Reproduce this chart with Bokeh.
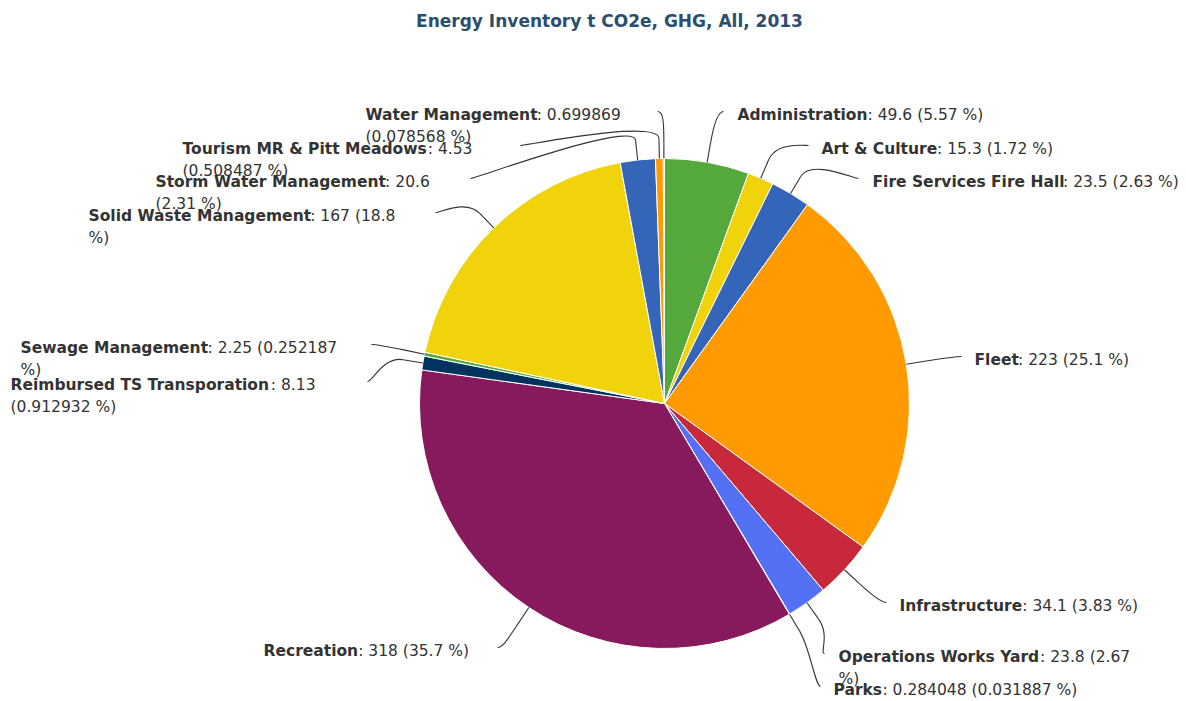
import math
from bokeh.plotting import figure
from bokeh.models import Range1d, ColumnDataSource
from bokeh.core.properties import value
from bokeh.embed import file_html
from bokeh.resources import INLINE

# ---------------- data ----------------
title_text = "Energy Inventory t CO2e, GHG, All, 2013"
categories = ["Administration", "Art & Culture", "Fire Services Fire Hall", "Fleet",
              "Infrastructure", "Operations Works Yard", "Parks", "Recreation",
              "Reimbursed TS Transporation", "Sewage Management", "Solid Waste Management",
              "Storm Water Management", "Tourism MR & Pitt Meadows", "Water Management"]
values = [49.6, 15.3, 23.5, 223, 34.1, 23.8, 0.284048, 318, 8.13, 2.25, 167, 20.6, 4.53, 0.699869]
percents = [5.57, 1.72, 2.63, 25.1, 3.83, 2.67, 0.031887, 35.7, 0.912932, 0.252187, 18.8, 2.31,
            0.508487, 0.078568]

# ---------------- style / layout ----------------
palette = ["#55a83c", "#f0d30a", "#3565b8", "#ff9a00", "#c8283b", "#5470f5", "#2aa7c9",
           "#861a5d", "#00345f"]
W, H = 1186, 701
CX, CY, R = 664, 403, 245          # screen px
FS = 15.5
TEXT_COLOR = "#333333"
LINE_H = 22.5

# per label: side (+1 right, -1 left), text left x, text first-line y, connector x,
# tokens of the value part kept on first line
label_layout = [
    (1, 737, 114, 723, 3),
    (1, 821, 148, 808, 3),
    (1, 872, 181, 858, 3),
    (1, 974, 359, 961, 3),
    (1, 899, 605, 886, 3),
    (1, 838, 656, 824, 2),
    (1, 833, 689, 820, 3),
    (-1, 263, 650, 497, 3),
    (-1, 10, 384, 367, 1),
    (-1, 20, 347, 371, 2),
    (-1, 88, 215, 435, 2),
    (-1, 155, 181, 470, 1),
    (-1, 182, 148, 520, 1),
    (-1, 365, 114, 657, 1),
]

# DejaVu Sans Bold advance widths (units of 1/2048 em)
BOLD_W = {' ': 713, '&': 1774, 'A': 1585, 'C': 1505, 'F': 1296, 'H': 1714, 'I': 763,
          'M': 1995, 'O': 1741, 'P': 1496, 'R': 1581, 'S': 1479, 'T': 1400, 'W': 2112,
          'Y': 1483, 'a': 1382, 'b': 1466, 'c': 1214, 'd': 1466, 'e': 1389, 'f': 891,
          'g': 1466, 'h': 1458, 'i': 702, 'k': 1362, 'l': 702, 'm': 2134, 'n': 1458,
          'o': 1407, 'p': 1466, 'r': 1010, 's': 1219, 't': 979, 'u': 1458, 'v': 1335,
          'w': 1862, 'y': 1335}


def bold_width(s, fs):
    return sum(BOLD_W.get(ch, 1300) for ch in s) / 2048.0 * fs


def fmt(v):
    return f"{v:.6f}" if v < 1 else f"{v:.3g}"


def sy(y):
    return 701 - y


p = figure(width=W, height=H, output_backend="svg", toolbar_location=None,
           x_range=Range1d(0, W), y_range=Range1d(701 - H, 701),
           min_border=0)
p.axis.visible = False
p.grid.visible = False
p.outline_line_color = None
p.background_fill_color = "white"
p.border_fill_color = "white"

total = sum(values)
starts, ends, cols = [], [], []
cum = 0.0
mids = []
for i, v in enumerate(values):
    a0 = math.pi / 2 - 2 * math.pi * cum / total
    mids.append(cum + v / 2)
    cum += v
    a1 = math.pi / 2 - 2 * math.pi * cum / total
    starts.append(a0)
    ends.append(a1)
    cols.append(palette[i % len(palette)])

src = ColumnDataSource(dict(start=starts, end=ends, color=cols, cat=categories))
p.wedge(x=CX, y=sy(CY), radius=R, start_angle="start", end_angle="end",
        direction="clock", fill_color="color", line_color="white", line_width=1,
        source=src)

# connectors and labels
bz = dict(x0=[], y0=[], x1=[], y1=[], cx0=[], cy0=[], cx1=[], cy1=[])
seg = dict(x0=[], y0=[], x1=[], y1=[])
bold_t = dict(x=[], y=[], t=[])
reg_t = dict(x=[], y=[], t=[])
for i, name in enumerate(categories):
    side, lx, ly, cxp, k = label_layout[i]
    ang = 2 * math.pi * mids[i] / total      # clockwise from top
    dx, dy = math.sin(ang), -math.cos(ang)   # screen direction
    tx, ty = CX + R * dx, CY + R * dy
    bx, by = CX + (R + 20) * dx, CY + (R + 20) * dy
    c2x, c2y = 2 * bx - tx, 2 * by - ty
    lpx, lpy = cxp, ly - 3
    bz["x0"].append(lpx); bz["y0"].append(sy(lpy))
    bz["x1"].append(bx); bz["y1"].append(sy(by))
    bz["cx0"].append(lpx - 5 * side); bz["cy0"].append(sy(lpy))
    bz["cx1"].append(c2x); bz["cy1"].append(sy(c2y))
    seg["x0"].append(bx); seg["y0"].append(sy(by))
    seg["x1"].append(tx); seg["y1"].append(sy(ty))

    tokens = [fmt(values[i]), "(" + fmt(percents[i]), "%)"]
    line1 = ": " + " ".join(tokens[:k])
    line2 = " ".join(tokens[k:])
    bold_t["x"].append(lx); bold_t["y"].append(sy(ly)); bold_t["t"].append(name)
    reg_t["x"].append(lx + bold_width(name, FS)); reg_t["y"].append(sy(ly))
    reg_t["t"].append(line1)
    if line2:
        reg_t["x"].append(lx); reg_t["y"].append(sy(ly + LINE_H)); reg_t["t"].append(line2)

p.bezier(source=ColumnDataSource(bz), x0="x0", y0="y0", x1="x1", y1="y1",
         cx0="cx0", cy0="cy0", cx1="cx1", cy1="cy1", line_color="#333333", line_width=1.1)
p.segment(source=ColumnDataSource(seg), x0="x0", y0="y0", x1="x1", y1="y1",
          line_color="#333333", line_width=1.1)

p.text(source=ColumnDataSource(bold_t), x="x", y="y", text="t",
       text_font=value("DejaVu Sans"), text_font_style="bold",
       text_font_size=f"{FS}px", text_color=TEXT_COLOR, text_baseline="middle",
       text_align="left")
p.text(source=ColumnDataSource(reg_t), x="x", y="y", text="t",
       text_font=value("DejaVu Sans"), text_font_size=f"{FS}px",
       text_color=TEXT_COLOR, text_baseline="middle", text_align="left")

p.text(x=[609], y=[sy(20)], text=[title_text], text_font=value("DejaVu Sans"),
       text_font_style="bold", text_font_size="17px", text_color="#2b4d6e",
       text_baseline="middle", text_align="center")

open("out.html", "w").write(file_html(p, INLINE))
